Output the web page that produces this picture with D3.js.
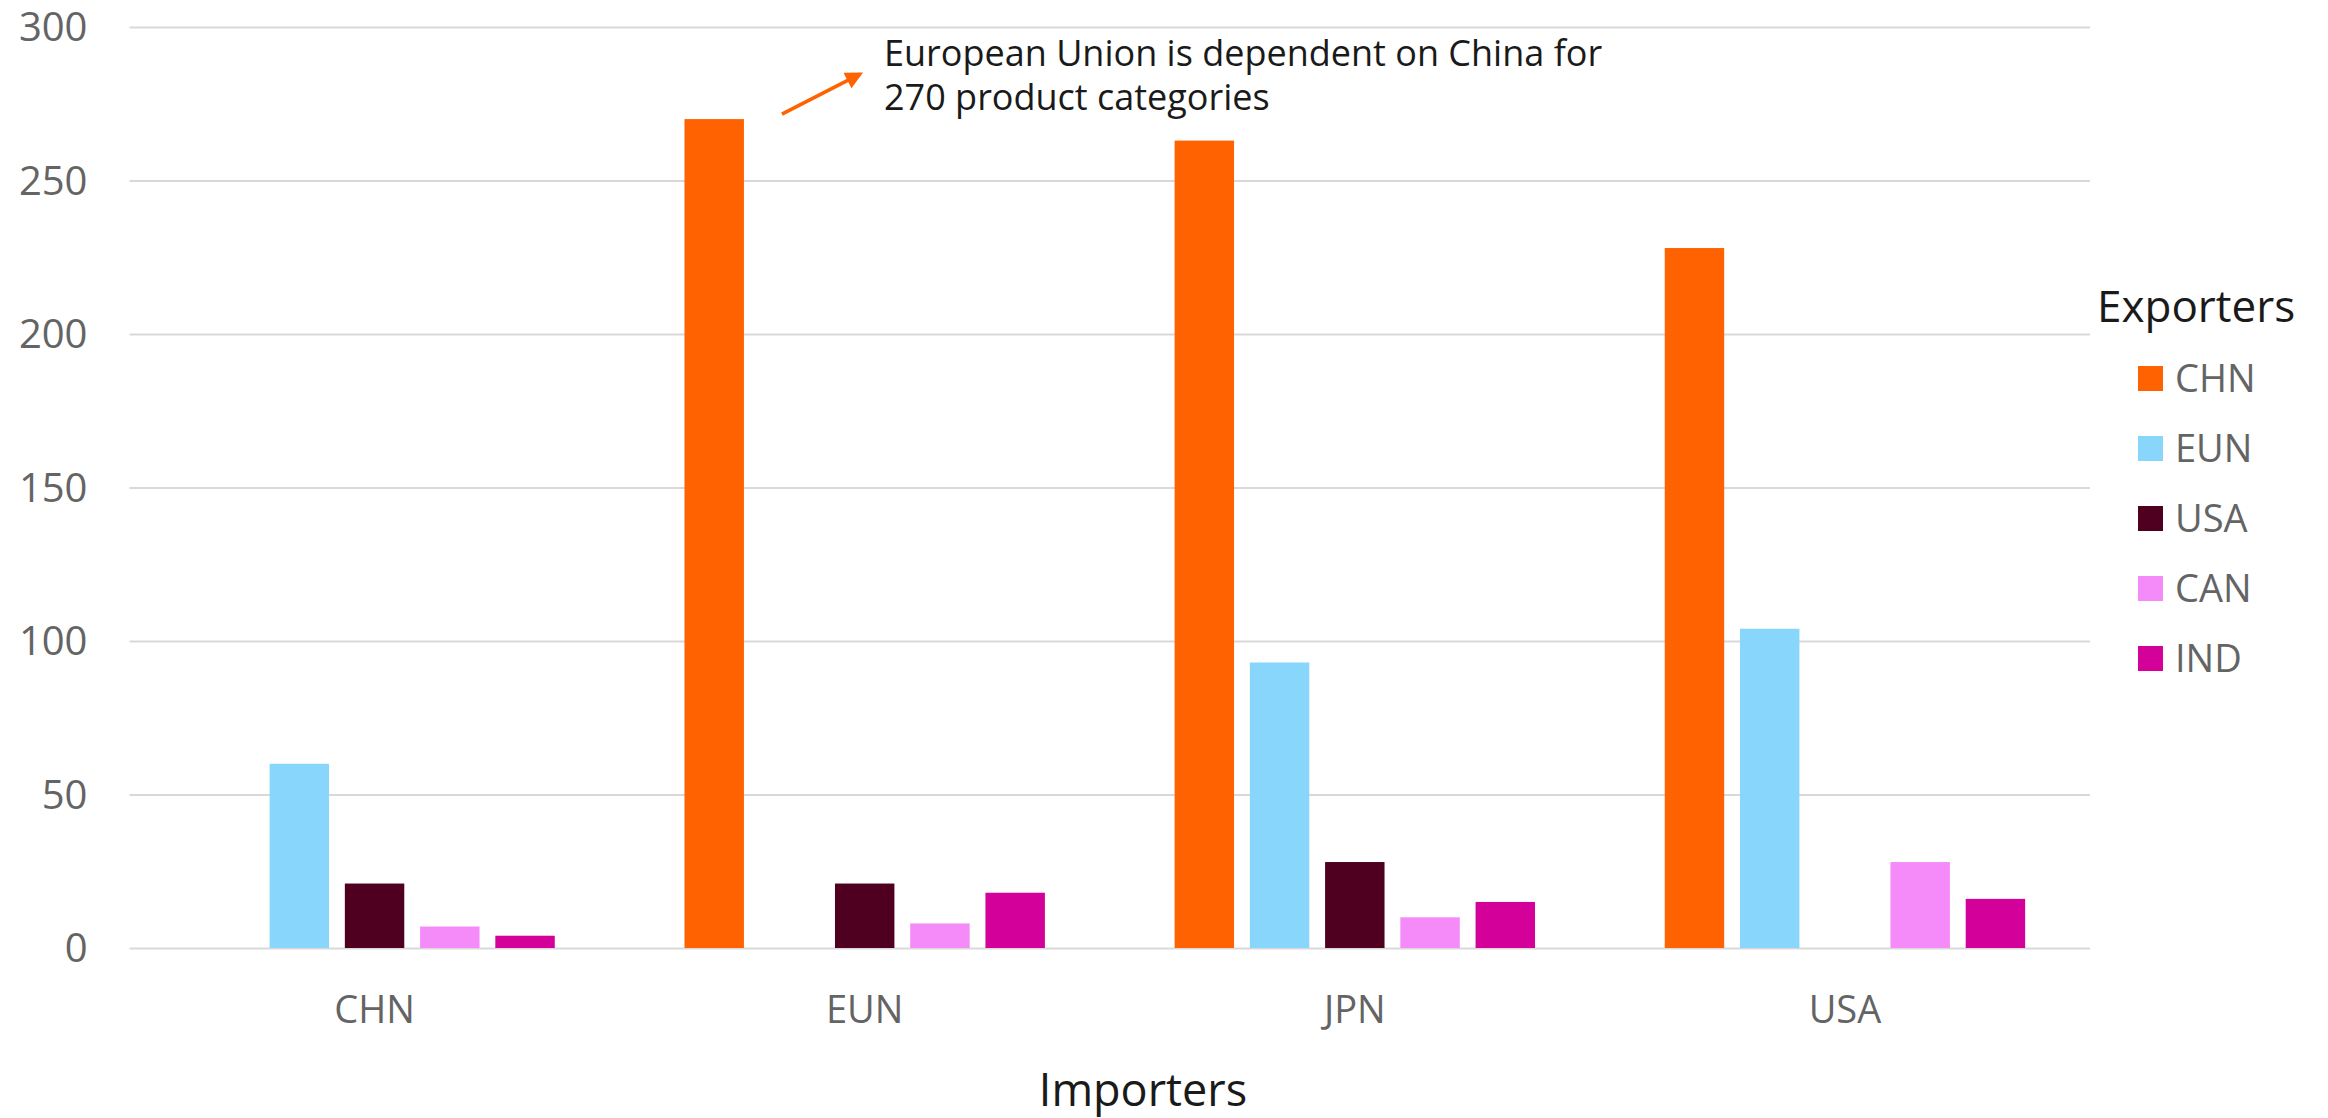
<!DOCTYPE html>
<html>
<head>
<meta charset="utf-8">
<script src="https://cdn.jsdelivr.net/npm/d3@7"></script>
<style>
  html, body { margin: 0; padding: 0; background: #ffffff; }
  svg { display: block; }
  text { font-family: "Open Sans", "Noto Sans", sans-serif; }
</style>
</head>
<body>
<svg id="chart" width="2328" height="1118"></svg>
<script>
// Importing economies along the x axis
const importers = ["CHN", "EUN", "JPN", "USA"];
// Exporting economies, one bar each per importer
const exporters = ["CHN", "EUN", "USA", "CAN", "IND"];

// Number of dependent product categories, per exporter, in importer order
const fromCHN = [0, 270, 263, 228];
const fromEUN = [60, 0, 93, 104];
const fromUSA = [21, 21, 28, 0];
const fromCAN = [7, 8, 10, 28];
const fromIND = [4, 18, 15, 16];

const yTicks = [0, 50, 100, 150, 200, 250, 300];
const exporterColors = ["#FF6200", "#89D6FD", "#4F0021", "#F58BF9", "#D3009A"];

const seriesByExporter = [fromCHN, fromEUN, fromUSA, fromCAN, fromIND];
const rows = importers.map((imp, i) => ({
  importer: imp,
  values: exporters.map((exp, k) => ({ exporter: exp, value: seriesByExporter[k][i] }))
}));

const svg = d3.select("#chart");
const plotLeft = 129.5, plotRight = 2090, plotTop = 27, plotBottom = 948;

const x0 = d3.scaleBand().domain(importers).range([plotLeft, plotRight]).padding(0);
const x1 = d3.scaleBand().domain(exporters).range([0, x0.bandwidth()])
  .paddingInner(0.21).paddingOuter(0.862);
const y = d3.scaleLinear().domain([0, 300]).range([plotBottom, plotTop]);
const color = d3.scaleOrdinal().domain(exporters).range(exporterColors);

// Value axis with full-width gridlines
const yAxis = svg.append("g")
  .attr("transform", `translate(${plotLeft},0)`)
  .call(d3.axisLeft(y).tickValues(yTicks).tickSize(-(plotRight - plotLeft)).tickPadding(42));
yAxis.select(".domain").remove();
yAxis.selectAll(".tick line").attr("stroke", "#d9d9d9").attr("stroke-width", 2);
yAxis.selectAll(".tick text")
  .attr("fill", "#646464").style("font-size", "40px").attr("dy", "0.34em");

// Grouped bars
const groups = svg.append("g").selectAll("g")
  .data(rows).join("g")
  .attr("transform", d => `translate(${x0(d.importer)},0)`);
groups.selectAll("rect")
  .data(d => d.values.filter(v => v.value > 0))
  .join("rect")
  .attr("x", d => x1(d.exporter))
  .attr("y", d => y(d.value))
  .attr("width", x1.bandwidth())
  .attr("height", d => y(0) - y(d.value))
  .attr("fill", d => color(d.exporter));

// Category axis
const xAxis = svg.append("g")
  .attr("transform", `translate(0,${plotBottom})`)
  .call(d3.axisBottom(x0).tickSize(0).tickPadding(48));
xAxis.select(".domain").remove();
xAxis.selectAll(".tick text").attr("fill", "#646464").style("font-size", "38px");

svg.append("text")
  .attr("x", 1143).attr("y", 1106)
  .attr("text-anchor", "middle")
  .attr("fill", "#1a1a1a").style("font-size", "45px")
  .text("Importers");

// Legend
const legend = svg.append("g");
legend.append("text")
  .attr("x", 2097).attr("y", 322)
  .attr("fill", "#1a1a1a").style("font-size", "44px")
  .text("Exporters");
const items = legend.selectAll("g.item").data(exporters).join("g")
  .attr("class", "item")
  .attr("transform", (d, i) => `translate(2138,${366 + i * 70})`);
items.append("rect").attr("width", 25).attr("height", 25).attr("fill", d => color(d));
items.append("text").attr("x", 37).attr("y", 26)
  .attr("fill", "#646464").style("font-size", "38px").text(d => d);

// Callout pointing at the EU's dependence on China
const defs = svg.append("defs");
defs.append("marker")
  .attr("id", "arrowhead").attr("viewBox", "0 0 10 10")
  .attr("refX", 8).attr("refY", 5)
  .attr("markerWidth", 5.5).attr("markerHeight", 5)
  .attr("orient", "auto")
  .append("path").attr("d", "M0,0 L10,5 L0,10 Z").attr("fill", "#FF6200");

const barRight = x0("EUN") + x1("CHN") + x1.bandwidth();
svg.append("line")
  .attr("x1", barRight + 38).attr("y1", y(270) - 5)
  .attr("x2", barRight + 116).attr("y2", y(270) - 45)
  .attr("stroke", "#FF6200").attr("stroke-width", 3.5)
  .attr("marker-end", "url(#arrowhead)");

const note = svg.append("text")
  .attr("x", 884).attr("y", 66)
  .attr("fill", "#1a1a1a").style("font-size", "36px");
note.append("tspan").attr("x", 884).text("European Union is dependent on China for");
note.append("tspan").attr("x", 884).attr("dy", 44).text("270 product categories");
</script>
</body>
</html>
